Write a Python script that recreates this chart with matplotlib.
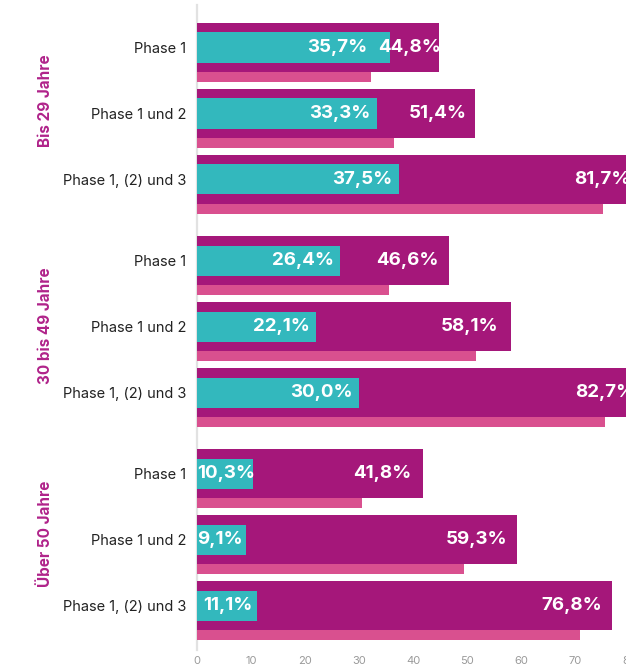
import numpy as np
import matplotlib
matplotlib.use("Agg")
import matplotlib.pyplot as plt

plt.rcParams.update({
    "font.family": ["Inter", "DejaVu Sans"],
    "font.size": 11,
})

# data
groups = ["Bis 29 Jahre", "30 bis 49 Jahre", "Über 50 Jahre"]
phases = ["Phase 1", "Phase 1 und 2", "Phase 1, (2) und 3"]
purple_vals = [44.8, 51.4, 81.7, 46.6, 58.1, 82.7, 41.8, 59.3, 76.8]
teal_vals = [35.7, 33.3, 37.5, 26.4, 22.1, 30.0, 10.3, 9.1, 11.1]
pink_vals = [32.3, 36.4, 75.1, 35.5, 51.6, 75.5, 30.6, 49.4, 71.0]

PURPLE = "#A5177A"
TEAL = "#33B8BD"
PINK = "#D9508F"
GROUP_COLOR = "#B0238A"

fig = plt.figure(figsize=(6.26, 6.71), dpi=100)
# x: 0 at 197px, 5.4 px per unit; y: axis line from 5px to 650px
ax = fig.add_axes([197 / 626, 1 - 650 / 671, 432 / 626, 645 / 671])

gap = 0.23
n_ph = len(phases)
pos = np.array([k + (k // n_ph) * gap for k in range(len(purple_vals))])

h_purple = 0.742
h_teal = 0.455
h_pink = 0.15

ax.barh(pos, purple_vals, height=h_purple, color=PURPLE, zorder=2)
ax.barh(pos, teal_vals, height=h_teal, color=TEAL, zorder=3)
ax.barh(pos + h_purple / 2 + h_pink / 2, pink_vals, height=h_pink, color=PINK, zorder=2)

ax.set_xlim(0, 80)
ax.set_ylim(pos[-1] + 0.67, pos[0] - 0.644)

px = 1 / 5.4  # one pixel in data units
fmt = lambda v: f"{v:.1f}%".replace(".", ",")
lab_kw = dict(color="white", fontsize=13.5, fontweight="bold", va="center", zorder=5)

# one label pair collides in the original and is nudged left
teal_pad = [22, 6, 7, 6, 6, 6, 3, 3, 4]
purple_pad = [-2, 8, 8, 10, 12, 8, 11, 10, 10]

fig.canvas.draw()
renderer = fig.canvas.get_renderer()
for i, p in enumerate(pos):
    ax.text(purple_vals[i] - purple_pad[i] * px, p, fmt(purple_vals[i]), ha="right", **lab_kw)
    t = ax.text(teal_vals[i] - teal_pad[i] * px, p, fmt(teal_vals[i]), ha="right", **lab_kw)
    bb = t.get_window_extent(renderer)
    x0 = ax.transData.transform((0, 0))[0]
    if bb.x0 < x0:
        t.set_ha("left")
        t.set_x(0)

ax.set_yticks(pos)
ax.set_yticklabels(phases * len(groups), fontsize=10.5, color="#222222")
ax.tick_params(axis="y", length=0, pad=8)
ax.set_xticks(np.arange(0, 81, 10))
ax.tick_params(axis="x", length=0, pad=4, labelsize=8, labelcolor="#9a9a9a")

for s in ["top", "right", "bottom"]:
    ax.spines[s].set_visible(False)
ax.spines["left"].set_color("#e2e2e2")
ax.spines["left"].set_linewidth(1.6)
ax.spines["left"].set_zorder(1)

for g, name in enumerate(groups):
    ax.text(-152 / 432, pos[g * n_ph] + 0.1, name, transform=ax.get_yaxis_transform(),
            rotation=90, ha="center", va="top", color=GROUP_COLOR,
            fontsize=11, fontweight="bold")

fig.savefig("out.png", dpi=100)
